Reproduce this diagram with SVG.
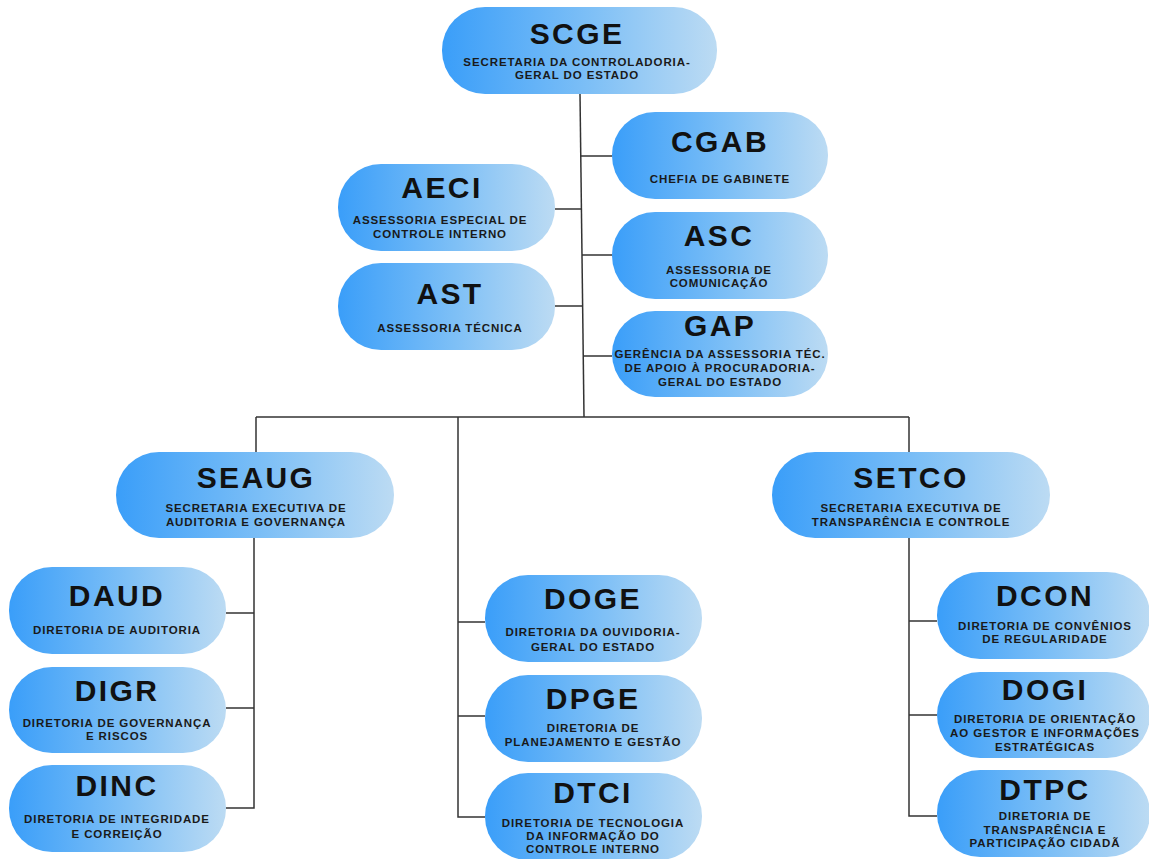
<svg xmlns="http://www.w3.org/2000/svg" width="1149" height="859" viewBox="0 0 1149 859">
<defs>
<linearGradient id="g" x1="0" y1="0" x2="1" y2="0">
<stop offset="0" stop-color="#3a9ef9"/>
<stop offset="0.55" stop-color="#7fc0f6"/>
<stop offset="1" stop-color="#bcdbf3"/>
</linearGradient>
<style>
.box{fill:url(#g);}
.t{font-family:"Liberation Sans",Arial,sans-serif;font-weight:bold;font-size:30px;letter-spacing:2.4px;fill:#111;text-anchor:middle;}
.s{font-family:"Liberation Sans",Arial,sans-serif;font-weight:bold;font-size:11.5px;letter-spacing:0.9px;fill:#1a1a1a;text-anchor:middle;}
.c{stroke:#333;stroke-width:1.5;fill:none;}
</style>
</defs>
<rect width="1149" height="859" fill="#fff"/>
<g id="connectors" class="c">
<line x1="580" y1="94" x2="584" y2="417"/>
<line x1="581" y1="156" x2="612" y2="156"/>
<line x1="555" y1="209" x2="582" y2="209"/>
<line x1="582" y1="255" x2="612" y2="255"/>
<line x1="555" y1="306" x2="583" y2="306"/>
<line x1="583" y1="356" x2="612" y2="356"/>
<line x1="256" y1="417" x2="909" y2="417"/>
<line x1="256" y1="417" x2="256" y2="452"/>
<line x1="909" y1="417" x2="909" y2="452"/>
<polyline points="458,417 458,817 485,817"/>
<line x1="458" y1="622" x2="485" y2="622"/>
<line x1="458" y1="716" x2="485" y2="716"/>
<polyline points="254,538 254,808 226,808"/>
<line x1="226" y1="613" x2="254" y2="613"/>
<line x1="226" y1="708" x2="254" y2="708"/>
<polyline points="909,538 909,816 937,816"/>
<line x1="909" y1="621" x2="937" y2="621"/>
<line x1="909" y1="715" x2="937" y2="715"/>
</g>
<g id="SCGE">
<rect class="box" x="442" y="7" width="275" height="87" rx="43"/>
<text class="t" x="577" y="44">SCGE</text>
<text class="s" x="577" y="66">SECRETARIA DA CONTROLADORIA-</text>
<text class="s" x="577" y="79">GERAL DO ESTADO</text>
</g>
<g id="CGAB">
<rect class="box" x="612" y="112" width="216" height="87" rx="43"/>
<text class="t" x="720" y="152">CGAB</text>
<text class="s" x="720" y="183">CHEFIA DE GABINETE</text>
</g>
<g id="AECI">
<rect class="box" x="338" y="164" width="217" height="87" rx="43"/>
<text class="t" x="442" y="198">AECI</text>
<text class="s" x="440" y="224">ASSESSORIA ESPECIAL DE</text>
<text class="s" x="440" y="238">CONTROLE INTERNO</text>
</g>
<g id="ASC">
<rect class="box" x="612" y="212" width="216" height="87" rx="43"/>
<text class="t" x="719" y="246">ASC</text>
<text class="s" x="719" y="274">ASSESSORIA DE</text>
<text class="s" x="719" y="287">COMUNICAÇÃO</text>
</g>
<g id="AST">
<rect class="box" x="338" y="263" width="217" height="87" rx="43"/>
<text class="t" x="450" y="304">AST</text>
<text class="s" x="450" y="332">ASSESSORIA TÉCNICA</text>
</g>
<g id="GAP">
<rect class="box" x="612" y="311" width="216" height="86" rx="43"/>
<text class="t" x="720" y="336">GAP</text>
<text class="s" x="720" y="358">GERÊNCIA DA ASSESSORIA TÉC.</text>
<text class="s" x="720" y="372">DE APOIO À PROCURADORIA-</text>
<text class="s" x="720" y="386">GERAL DO ESTADO</text>
</g>
<g id="SEAUG">
<rect class="box" x="116" y="452" width="278" height="86" rx="43"/>
<text class="t" x="256" y="488">SEAUG</text>
<text class="s" x="256" y="512">SECRETARIA EXECUTIVA DE</text>
<text class="s" x="256" y="526">AUDITORIA E GOVERNANÇA</text>
</g>
<g id="SETCO">
<rect class="box" x="772" y="452" width="278" height="86" rx="43"/>
<text class="t" x="911" y="488">SETCO</text>
<text class="s" x="911" y="512">SECRETARIA EXECUTIVA DE</text>
<text class="s" x="911" y="526">TRANSPARÊNCIA E CONTROLE</text>
</g>
<g id="DAUD">
<rect class="box" x="9" y="567" width="217" height="87" rx="43"/>
<text class="t" x="117" y="606">DAUD</text>
<text class="s" x="117" y="634">DIRETORIA DE AUDITORIA</text>
</g>
<g id="DIGR">
<rect class="box" x="9" y="667" width="217" height="86" rx="43"/>
<text class="t" x="117" y="701">DIGR</text>
<text class="s" x="117" y="727">DIRETORIA DE GOVERNANÇA</text>
<text class="s" x="117" y="740">E RISCOS</text>
</g>
<g id="DINC">
<rect class="box" x="9" y="765" width="217" height="87" rx="43"/>
<text class="t" x="117" y="796">DINC</text>
<text class="s" x="117" y="823">DIRETORIA DE INTEGRIDADE</text>
<text class="s" x="117" y="838">E CORREIÇÃO</text>
</g>
<g id="DOGE">
<rect class="box" x="485" y="575" width="217" height="87" rx="43"/>
<text class="t" x="593" y="609">DOGE</text>
<text class="s" x="593" y="636">DIRETORIA DA OUVIDORIA-</text>
<text class="s" x="593" y="651">GERAL DO ESTADO</text>
</g>
<g id="DPGE">
<rect class="box" x="485" y="675" width="217" height="87" rx="43"/>
<text class="t" x="593" y="709">DPGE</text>
<text class="s" x="593" y="732">DIRETORIA DE</text>
<text class="s" x="593" y="746">PLANEJAMENTO E GESTÃO</text>
</g>
<g id="DTCI">
<rect class="box" x="485" y="773" width="217" height="87" rx="43"/>
<text class="t" x="593" y="803">DTCI</text>
<text class="s" x="593" y="827">DIRETORIA DE TECNOLOGIA</text>
<text class="s" x="593" y="840">DA INFORMAÇÃO DO</text>
<text class="s" x="593" y="853">CONTROLE INTERNO</text>
</g>
<g id="DCON">
<rect class="box" x="937" y="572" width="213" height="87" rx="43"/>
<text class="t" x="1045" y="606">DCON</text>
<text class="s" x="1045" y="630">DIRETORIA DE CONVÊNIOS</text>
<text class="s" x="1045" y="643">DE REGULARIDADE</text>
</g>
<g id="DOGI">
<rect class="box" x="937" y="672" width="213" height="86" rx="43"/>
<text class="t" x="1045" y="700">DOGI</text>
<text class="s" x="1045" y="723">DIRETORIA DE ORIENTAÇÃO</text>
<text class="s" x="1045" y="737">AO GESTOR E INFORMAÇÕES</text>
<text class="s" x="1045" y="751">ESTRATÉGICAS</text>
</g>
<g id="DTPC">
<rect class="box" x="937" y="770" width="213" height="87" rx="43"/>
<text class="t" x="1045" y="800">DTPC</text>
<text class="s" x="1045" y="820">DIRETORIA DE</text>
<text class="s" x="1045" y="834">TRANSPARÊNCIA E</text>
<text class="s" x="1045" y="847">PARTICIPAÇÃO CIDADÃ</text>
</g>
</svg>
